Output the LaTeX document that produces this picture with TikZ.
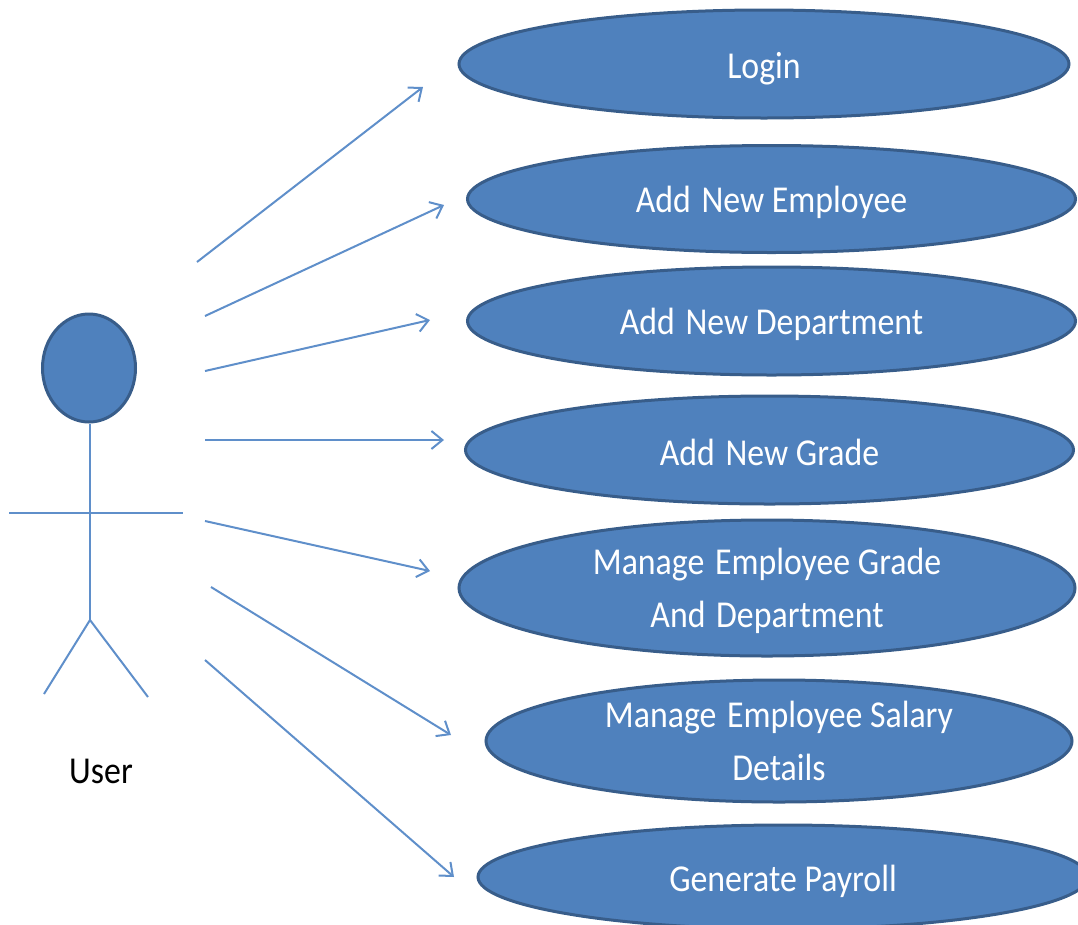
\documentclass[tikz,border=0pt]{standalone}
\usepackage{fontspec}
\setmainfont{Carlito}[FakeStretch=0.89]
\usetikzlibrary{shapes.geometric,arrows.meta}
\definecolor{ucfill}{HTML}{4F81BD}
\definecolor{ucline}{HTML}{385D8A}
\definecolor{conn}{HTML}{5F8FCA}
\newcommand{\txtdrop}[2]{\raisebox{-#1}[\height][\depth]{#2}}
\newcommand{\twolines}[3]{\raisebox{-#1}[0pt][0pt]{\begin{tabular}{@{}c@{}}#2\\#3\end{tabular}}}
\newcommand{\wgap}{\kern3pt\relax\space}
\tikzset{
  x=1pt,y=-1pt,
  usecase/.style={ellipse,draw=ucline,fill=ucfill,line width=3pt,inner sep=0pt,text=white,font=\fontsize{38}{53}\selectfont,align=center},
  conline/.style={draw=conn,line width=2pt},
  arrowline/.style={conline,-{Straight Barb[length=11pt,width=18pt,line width=2pt]}}
}
\begin{document}
\begin{tikzpicture}
\useasboundingbox (0,0) rectangle (1078,924);
\node[usecase,minimum width=610pt,minimum height=108pt] (login) at (764,64) {\txtdrop{5pt}{Login}};
\node[usecase,minimum width=608pt,minimum height=107pt] (emp) at (771.5,199) {\txtdrop{3pt}{Add\wgap New Employee}};
\node[usecase,minimum width=608pt,minimum height=108pt] (dept) at (771.5,321) {\txtdrop{3pt}{Add\wgap New Department}};
\node[usecase,minimum width=608pt,minimum height=108pt] (grade) at (769.5,450) {\txtdrop{2pt}{Add\wgap New Grade}};
\node[usecase,minimum width=616pt,minimum height=136pt] (manage) at (767,588) {\twolines{8.5pt}{Manage\wgap Employee Grade}{And\wgap Department}};
\node[usecase,minimum width=586pt,minimum height=122pt] (salary) at (779,741) {\twolines{8.5pt}{Manage\wgap Employee Salary}{Details}};
\node[usecase,minimum width=610pt,minimum height=104pt] (payroll) at (783,877) {\txtdrop{4pt}{Generate Payroll}};
\node[ellipse,draw=ucline,fill=ucfill,line width=3pt,minimum width=93pt,minimum height=108pt,inner sep=0pt] (head) at (89,368) {};
\coordinate (hip) at (90,620);
\coordinate (armL) at (9,513);
\coordinate (armR) at (183,513);
\coordinate (legL) at (44,694);
\coordinate (legR) at (148,697);
\draw[conline] (head.south -| hip) -- (hip);
\draw[conline] (armL) -- (armR);
\draw[conline] (legL) -- (hip) -- (legR);
\node[font=\fontsize{38}{44}\selectfont,text=black] (user) at (101,771) {User};
\coordinate (a1) at (197,262); \coordinate (b1) at (423,87);
\coordinate (a2) at (205,316); \coordinate (b2) at (444,205);
\coordinate (a3) at (205,371); \coordinate (b3) at (430,320);
\coordinate (a4) at (205,440); \coordinate (b4) at (444,440);
\coordinate (a5) at (205,521); \coordinate (b5) at (430,571);
\coordinate (a6) at (211,587); \coordinate (b6) at (451,735);
\coordinate (a7) at (205,660); \coordinate (b7) at (454,877);
\foreach \i in {1,...,7} \draw[arrowline] (a\i) -- (b\i);
\end{tikzpicture}
\end{document}
